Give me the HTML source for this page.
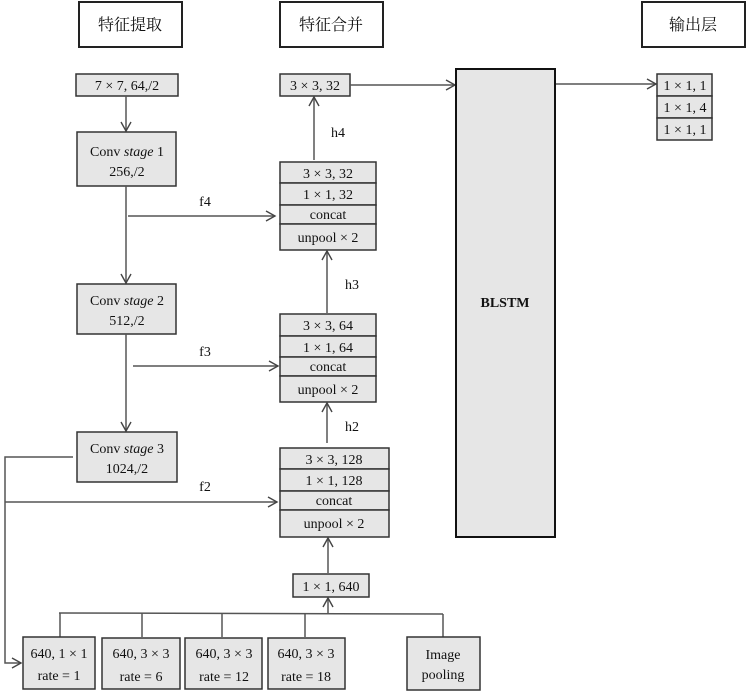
<!DOCTYPE html>
<html><head><meta charset="utf-8"><style>
html,body{margin:0;padding:0;background:#fff;}
svg{display:block;}
text{font-family:"Liberation Serif","Noto Serif CJK SC",serif;font-size:14px;fill:#111;text-anchor:middle;}
.cn{font-family:"Liberation Serif","Noto Serif CJK SC","Noto Sans CJK SC",serif;font-size:16px;}
.b{fill:#e6e6e6;stroke:#333;stroke-width:1.5;}
.h{fill:#fff;stroke:#222;stroke-width:2;}
.l{stroke:#555;stroke-width:1.5;fill:none;}
</style></head><body>
<svg width="746" height="692" viewBox="0 0 746 692">
<defs><marker id="a" markerWidth="12" markerHeight="12" refX="10" refY="6" orient="auto" markerUnits="userSpaceOnUse"><path d="M1,1 L10,6 L1,11" fill="none" stroke="#444" stroke-width="1.4"/></marker></defs>
<!-- headers -->
<rect class="h" x="79" y="2" width="103" height="45"/><text class="cn" x="130" y="30">特征提取</text>
<rect class="h" x="280" y="2" width="103" height="45"/><text class="cn" x="331" y="30">特征合并</text>
<rect class="h" x="642" y="2" width="103" height="45"/><text class="cn" x="693" y="30">输出层</text>
<!-- left column -->
<rect class="b" x="76" y="74" width="102" height="22"/><text x="127" y="90">7 × 7, 64,/2</text>
<line class="l" x1="126" y1="96" x2="126" y2="131" marker-end="url(#a)"/>
<rect class="b" x="77" y="132" width="99" height="54"/><text x="127" y="156">Conv <tspan font-style="italic">stage</tspan> 1</text><text x="127" y="176">256,/2</text>
<line class="l" x1="126" y1="186" x2="126" y2="283" marker-end="url(#a)"/>
<line class="l" x1="128" y1="216" x2="275" y2="216" marker-end="url(#a)"/><text x="205" y="206">f4</text>
<rect class="b" x="77" y="284" width="99" height="50"/><text x="127" y="305">Conv <tspan font-style="italic">stage</tspan> 2</text><text x="127" y="325">512,/2</text>
<line class="l" x1="126" y1="334" x2="126" y2="431" marker-end="url(#a)"/>
<line class="l" x1="133" y1="366" x2="278" y2="366" marker-end="url(#a)"/><text x="205" y="356">f3</text>
<rect class="b" x="77" y="432" width="100" height="50"/><text x="127" y="453">Conv <tspan font-style="italic">stage</tspan> 3</text><text x="127" y="473">1024,/2</text>
<polyline class="l" points="73,457 5,457 5,663 21,663" marker-end="url(#a)"/>
<line class="l" x1="5" y1="502" x2="277" y2="502" marker-end="url(#a)"/><text x="205" y="491">f2</text>
<!-- middle -->
<rect class="b" x="280" y="74" width="70" height="22"/><text x="315" y="90">3 × 3, 32</text>
<line class="l" x1="314" y1="160" x2="314" y2="97" marker-end="url(#a)"/><text x="338" y="137">h4</text>
<line class="l" x1="350" y1="85" x2="455" y2="85" marker-end="url(#a)"/>
<g>
<rect class="b" x="280" y="162" width="96" height="21"/><text x="328" y="178">3 × 3, 32</text>
<rect class="b" x="280" y="183" width="96" height="22"/><text x="328" y="199">1 × 1, 32</text>
<rect class="b" x="280" y="205" width="96" height="19"/><text x="328" y="219">concat</text>
<rect class="b" x="280" y="224" width="96" height="26"/><text x="328" y="242">unpool × 2</text>
</g>
<line class="l" x1="327" y1="313" x2="327" y2="251" marker-end="url(#a)"/><text x="352" y="289">h3</text>
<g>
<rect class="b" x="280" y="314" width="96" height="22"/><text x="328" y="330">3 × 3, 64</text>
<rect class="b" x="280" y="336" width="96" height="21"/><text x="328" y="352">1 × 1, 64</text>
<rect class="b" x="280" y="357" width="96" height="19"/><text x="328" y="371">concat</text>
<rect class="b" x="280" y="376" width="96" height="26"/><text x="328" y="394">unpool × 2</text>
</g>
<line class="l" x1="327" y1="443" x2="327" y2="403" marker-end="url(#a)"/><text x="352" y="431">h2</text>
<g>
<rect class="b" x="280" y="448" width="109" height="21"/><text x="334" y="464">3 × 3, 128</text>
<rect class="b" x="280" y="469" width="109" height="22"/><text x="334" y="485">1 × 1, 128</text>
<rect class="b" x="280" y="491" width="109" height="19"/><text x="334" y="505">concat</text>
<rect class="b" x="280" y="510" width="109" height="27"/><text x="334" y="528">unpool × 2</text>
</g>
<line class="l" x1="328" y1="573" x2="328" y2="538" marker-end="url(#a)"/>
<rect class="b" x="293" y="574" width="76" height="23"/><text x="331" y="591">1 × 1, 640</text>
<line class="l" x1="328" y1="613" x2="328" y2="598" marker-end="url(#a)"/>
<polyline class="l" points="59,613 443,614"/>
<line class="l" x1="60" y1="613" x2="60" y2="637"/>
<line class="l" x1="142" y1="613" x2="142" y2="637"/>
<line class="l" x1="222" y1="613" x2="222" y2="637"/>
<line class="l" x1="305" y1="613" x2="305" y2="637"/>
<line class="l" x1="443" y1="614" x2="443" y2="637"/>
<rect class="b" x="23" y="637" width="72" height="52"/><text x="59" y="658">640, 1 × 1</text><text x="59" y="680">rate = 1</text>
<rect class="b" x="102" y="638" width="78" height="51"/><text x="141" y="658">640, 3 × 3</text><text x="141" y="681">rate = 6</text>
<rect class="b" x="185" y="638" width="77" height="51"/><text x="224" y="658">640, 3 × 3</text><text x="224" y="681">rate = 12</text>
<rect class="b" x="268" y="638" width="77" height="51"/><text x="306" y="658">640, 3 × 3</text><text x="306" y="681">rate = 18</text>
<rect class="b" x="407" y="637" width="73" height="53"/><text x="443" y="659">Image</text><text x="443" y="679">pooling</text>
<!-- BLSTM -->
<rect x="456" y="69" width="99" height="468" fill="#e6e6e6" stroke="#111" stroke-width="2"/>
<text x="505" y="307" font-weight="bold">BLSTM</text>
<line class="l" x1="556" y1="84" x2="656" y2="84" marker-end="url(#a)"/>
<rect class="b" x="657" y="74" width="55" height="22"/><text x="685" y="90">1 × 1, 1</text>
<rect class="b" x="657" y="96" width="55" height="22"/><text x="685" y="112">1 × 1, 4</text>
<rect class="b" x="657" y="118" width="55" height="22"/><text x="685" y="134">1 × 1, 1</text>
</svg>
</body></html>
